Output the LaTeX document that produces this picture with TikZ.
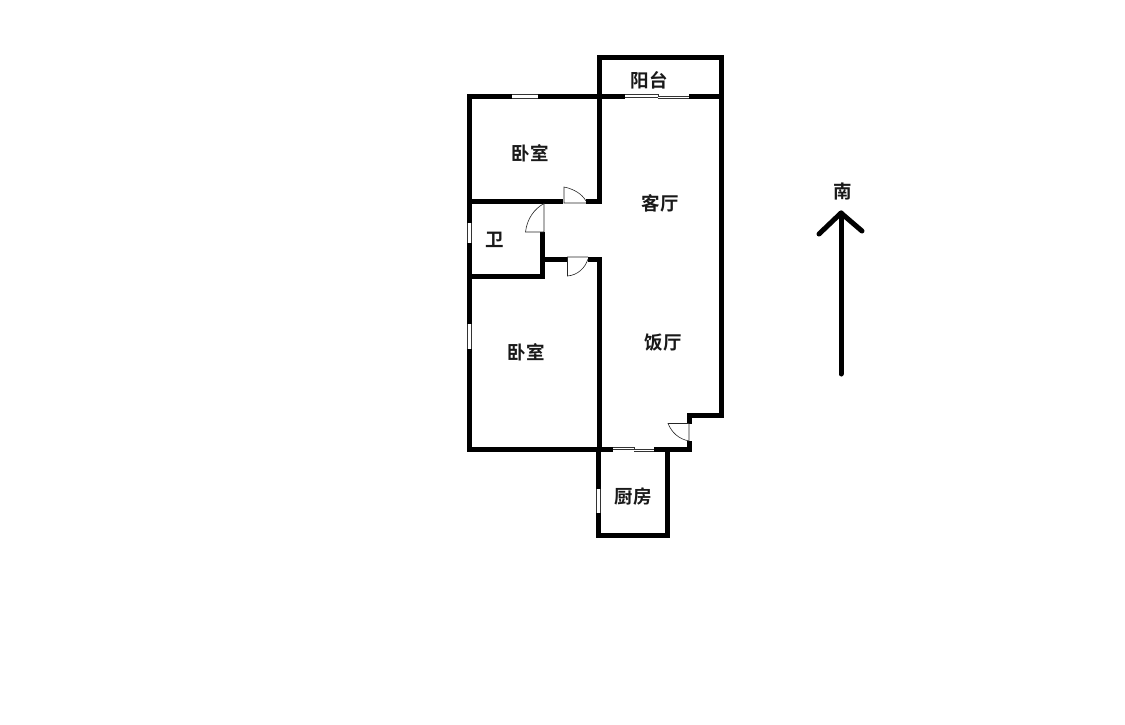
\documentclass[tikz,border=0pt]{standalone}
\usepackage{fontspec}
\setmainfont{Noto Sans CJK SC}[BoldFont={* Bold}]
\tikzset{
  wall/.style={line width=5pt,line cap=butt,line join=miter,black},
  thin line/.style={line width=0.7pt,black!80},
  doorline/.style={line width=0.6pt,black!85},
  room/.style={font=\bfseries\fontsize{18.5}{18.5}\selectfont,text=black!90,inner sep=0pt},
  arrowline/.style={line width=5pt,line cap=round,line join=round,black}
}
\begin{document}
\begin{tikzpicture}[x=1pt,y=-1pt]
\useasboundingbox (0,0) rectangle (1125,724);
% outer walls
\draw[wall] (512,96.5) -- (469.5,96.5) -- (469.5,223);
\draw[wall] (469.5,243) -- (469.5,324);
\draw[wall] (469.5,349) -- (469.5,449) -- (613,449);
\draw[wall] (538,96.5) -- (625,96.5);
\draw[wall] (689,96.5) -- (721.5,96.5);
\draw[wall] (599,96.5) -- (599,57.5) -- (721.5,57.5) -- (721.5,415) -- (689,415) -- (689,423.5);
\draw[wall] (689,441) -- (689,449) -- (654,449);
% inner walls
\draw[wall] (599,96.5) -- (599,201.5) -- (586,201.5);
\draw[wall] (563,201.5) -- (469.5,201.5);
\draw[wall] (469.5,276) -- (542.5,276) -- (542.5,232);
\draw[wall] (542.5,259) -- (567,259);
\draw[wall] (588,259) -- (599,259) -- (599,449);
% kitchen
\draw[wall] (598.5,449) -- (598.5,489);
\draw[wall] (598.5,513) -- (598.5,535) -- (667,535) -- (667,449);
% windows
\draw[thin line] (512,94.5) -- (538,94.5) (512,98.5) -- (538,98.5);
\draw[thin line] (625,94.5) -- (658,94.5) -- (658,96.5) -- (689,96.5) (625,97) -- (658,97) (658,98.5) -- (689,98.5);
\draw[thin line] (467.5,223) -- (467.5,243) (471.5,223) -- (471.5,243);
\draw[thin line] (467.5,324) -- (467.5,349) (471.5,324) -- (471.5,349);
\draw[thin line] (613,447) -- (634,447) -- (634,449) -- (654,449) (613,449.5) -- (634,449.5) (634,451) -- (654,451);
\draw[thin line] (596.5,489) -- (596.5,513) (600.5,489) -- (600.5,513);
% doors
\draw[doorline] (586,203) -- (564,203) -- (564,187) .. controls (574,189) and (582,194) .. (586,201);
\draw[doorline] (544,232) -- (525.5,232) .. controls (527,219) and (534,209) .. (544,203.5) -- (544,232);
\draw[doorline] (588,257) -- (567.5,257) -- (567.5,276) .. controls (578,275) and (585,268) .. (588,259);
\draw[doorline] (689,441) -- (689,423.5) -- (668,423.5) .. controls (672,433) and (679,439) .. (689,441);
% labels
\node[room] (balcony) at (649,80) {阳台};
\node[room] (bedone) at (530,153) {卧室};
\node[room] (living) at (660,203) {客厅};
\node[room] (bath) at (494.5,240) {卫};
\node[room] (bedtwo) at (526,352.5) {卧室};
\node[room] (dining) at (663,343) {饭厅};
\node[room] (kitchen) at (633,497) {厨房};
\node[room] (south) at (843,192) {南};
% arrow
\coordinate (tail) at (841,374);
\coordinate (tip) at (841,213);
\coordinate (barbl) at (819,234);
\coordinate (barbr) at (862,231);
\draw[arrowline] (tail) -- (tip);
\draw[arrowline] (barbl) -- (tip) -- (barbr);
\end{tikzpicture}
\end{document}
